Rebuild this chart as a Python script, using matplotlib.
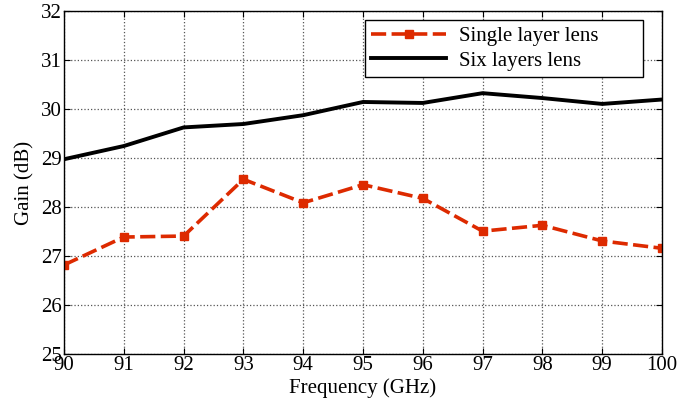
import matplotlib
matplotlib.use("Agg")
import matplotlib.pyplot as plt

freq = [90, 91, 92, 93, 94, 95, 96, 97, 98, 99, 100]
single_layer = [26.82, 27.39, 27.41, 28.57, 28.09, 28.46, 28.18, 27.51, 27.63, 27.31, 27.16]
six_layers = [28.98, 29.25, 29.63, 29.70, 29.88, 30.15, 30.13, 30.33, 30.23, 30.11, 30.20]
xticks = [90, 91, 92, 93, 94, 95, 96, 97, 98, 99, 100]
yticks = [25, 26, 27, 28, 29, 30, 31, 32]

plt.rcParams['font.family'] = ['Liberation Serif', 'DejaVu Serif']

fig = plt.figure(figsize=(6.79, 4.03), dpi=100)
ax = fig.add_axes([0.0943, 0.1216, 0.8807, 0.850])

ax.plot(freq, single_layer, color='#DD2A00', linestyle=(0, (4.2, 1.5)), linewidth=2.6,
        marker='s', markersize=5.5, label='Single layer lens')
ax.plot(freq, six_layers, color='black', linestyle='-', linewidth=2.8, label='Six layers lens')

ax.set_xlim(90, 100)
ax.set_ylim(25, 32)
ax.set_xticks(xticks)
ax.set_yticks(yticks)
ax.tick_params(direction='in', top=True, right=True, labelsize=15, length=4, width=0.8, pad=1.5)
ax.grid(True, color='#555555', linestyle=':', linewidth=0.9)
for s in ax.spines.values():
    s.set_linewidth(1.0)

ax.set_xlabel('Frequency (GHz)', fontsize=15, labelpad=2)
ax.set_ylabel('Gain (dB)', fontsize=15, labelpad=5)

leg = ax.legend(loc='upper left', bbox_to_anchor=(0.503, 0.815, 0.465, 0.16), mode='expand',
                borderaxespad=0, fontsize=15, fancybox=False, framealpha=1, edgecolor='black',
                handlelength=3.6, labelspacing=0.25, borderpad=0.3, handletextpad=0.6)
leg.get_frame().set_linewidth(1.0)

fig.savefig('out.png', dpi=100)
